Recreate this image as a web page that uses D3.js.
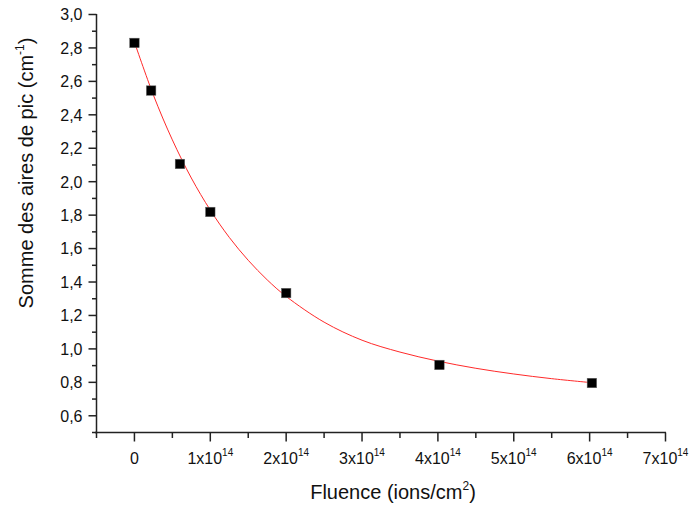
<!DOCTYPE html>
<html><head><meta charset="utf-8">
<script src="https://cdn.jsdelivr.net/npm/d3@7"></script>
<style>body{margin:0;background:#fff}svg{display:block}text{font-family:"Liberation Sans",Arial,sans-serif;fill:#111}</style>
</head><body><svg id="c" width="689" height="509"></svg>
<script>
// data (fluence in units of 1e14 ions/cm2)
const fluence = [0, 0.22, 0.6, 1.0, 2.0, 4.02, 6.03];
const sumArea = [2.83, 2.545, 2.106, 1.819, 1.334, 0.904, 0.796];
const fitX = [0, 0.25, 0.5, 0.75, 1.0, 1.25, 1.5, 1.75, 2.0, 2.5, 3.0, 3.5, 4.0, 4.5, 5.0, 5.5, 6.05];
const fitY = [2.835, 2.518, 2.25, 2.022, 1.83, 1.667, 1.53, 1.413, 1.314, 1.16, 1.052, 0.981, 0.927, 0.884, 0.85, 0.822, 0.797];
const xMajor = [0, 1, 2, 3, 4, 5, 6, 7];
const xMinor = [-0.5, 0.5, 1.5, 2.5, 3.5, 4.5, 5.5, 6.5];
const yMajor = [0.6, 0.8, 1.0, 1.2, 1.4, 1.6, 1.8, 2.0, 2.2, 2.4, 2.6, 2.8, 3.0];
const yMinor = [0.5, 0.7, 0.9, 1.1, 1.3, 1.5, 1.7, 1.9, 2.1, 2.3, 2.5, 2.7, 2.9];

const svg = d3.select("#c");
const x = d3.scaleLinear().domain([-0.5, 7]).range([96.5, 665.5]);
const y = d3.scaleLinear().domain([0.5, 3.0]).range([432.5, 14.5]);
const axisColor = "#222";

// x axis
const gx = svg.append("g").attr("transform", "translate(0,432.5)");
gx.append("line").attr("x1", 95).attr("x2", x(7)+0.5).attr("stroke", axisColor).attr("stroke-width", 1.5);
gx.selectAll("line.maj").data(xMajor).join("line").attr("class","maj")
  .attr("x1", d => x(d)).attr("x2", d => x(d)).attr("y1", 0).attr("y2", 9)
  .attr("stroke", axisColor).attr("stroke-width", 1.5);
gx.selectAll("line.min").data(xMinor).join("line").attr("class","min")
  .attr("x1", d => x(d)).attr("x2", d => x(d)).attr("y1", 0).attr("y2", 5.5)
  .attr("stroke", axisColor).attr("stroke-width", 1.5);
const xl = gx.selectAll("text").data(xMajor).join("text")
  .attr("x", d => x(d)).attr("y", 31.5).attr("text-anchor", "middle").attr("font-size", 16);
xl.each(function(d){
  const t = d3.select(this);
  if (d === 0) { t.text("0"); return; }
  t.append("tspan").text(d + "x10");
  t.append("tspan").attr("font-size", 10).attr("dy", -8).text("14");
});

// y axis
const gy = svg.append("g").attr("transform", "translate(96.5,0)");
gy.append("line").attr("y1", 14).attr("y2", 433.2).attr("stroke", axisColor).attr("stroke-width", 1.5);
gy.selectAll("line.maj").data(yMajor).join("line").attr("class","maj")
  .attr("y1", d => y(d)).attr("y2", d => y(d)).attr("x1", 0).attr("x2", -8)
  .attr("stroke", axisColor).attr("stroke-width", 1.5);
gy.selectAll("line.min").data(yMinor).join("line").attr("class","min")
  .attr("y1", d => y(d)).attr("y2", d => y(d)).attr("x1", 0).attr("x2", -4.5)
  .attr("stroke", axisColor).attr("stroke-width", 1.5);
gy.selectAll("text").data(yMajor).join("text")
  .attr("x", -14).attr("y", d => y(d) + 5.8).attr("text-anchor", "end").attr("font-size", 16)
  .text(d => d.toFixed(1).replace(".", ","));

// titles
const xt = svg.append("text").attr("x", 393).attr("y", 499).attr("text-anchor", "middle").attr("font-size", 20);
xt.append("tspan").text("Fluence (ions/cm");
xt.append("tspan").attr("font-size", 12).attr("dy", -9).text("2");
xt.append("tspan").attr("dy", 9).text(")");

const yt = svg.append("text").attr("transform", "translate(33,173) rotate(-90)").attr("text-anchor", "middle").attr("font-size", 20);
yt.append("tspan").text("Somme des aires de pic (cm");
yt.append("tspan").attr("font-size", 12).attr("dy", -9).text("-1");
yt.append("tspan").attr("dy", 9).text(")");

// fit curve
const line = d3.line().x((d,i) => x(fitX[i])).y((d,i) => y(fitY[i])).curve(d3.curveCatmullRom.alpha(0.5));
svg.append("path").attr("d", line(fitX)).attr("fill", "none").attr("stroke", "#ff2a2a").attr("stroke-width", 1);

// points
svg.selectAll("rect.pt").data(fluence).join("rect").attr("class","pt")
  .attr("x", (d,i) => x(d) - 4.75).attr("y", (d,i) => y(sumArea[i]) - 4.75)
  .attr("width", 9.5).attr("height", 9.5).attr("fill", "#000").attr("stroke", "#666").attr("stroke-width", 0.5);
</script></body></html>
